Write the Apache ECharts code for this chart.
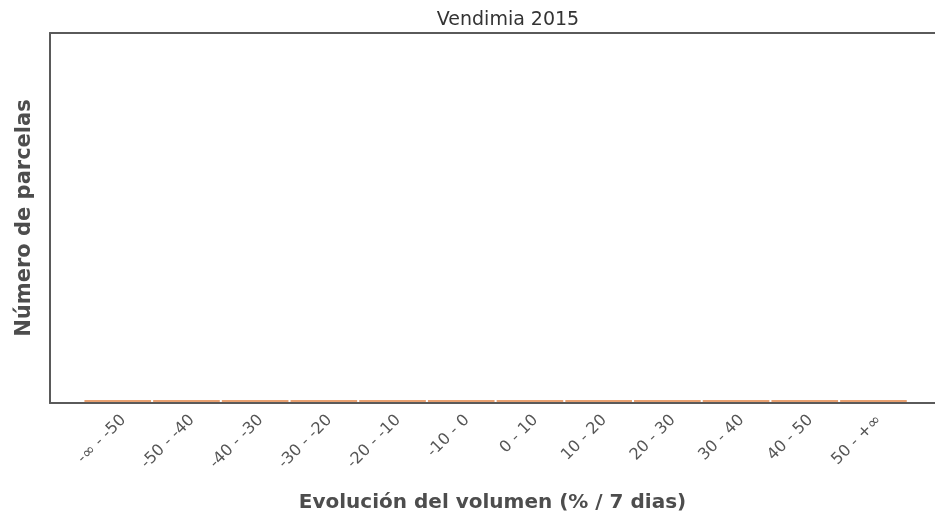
<!DOCTYPE html>
<html>
<head>
<meta charset="utf-8">
<script src="https://cdn.jsdelivr.net/npm/echarts@6/dist/echarts.min.js"></script>
<style>
  html, body { margin: 0; padding: 0; background: #fff; }
  #main { width: 935px; height: 526px; }
</style>
</head>
<body>
<div id="main"></div>
<script>
// rangos de evolucion del volumen
var categories = ['-∞ - -50', '-50 - -40', '-40 - -30', '-30 - -20', '-20 - -10', '-10 - 0',
                  '0 - 10', '10 - 20', '20 - 30', '30 - 40', '40 - 50', '50 - +∞'];
// numero de parcelas por rango (todo a cero)
var parcelas = [0, 0, 0, 0, 0, 0, 0, 0, 0, 0, 0, 0];

var chartTitle = 'Vendimia 2015';
var xName = 'Evolución del volumen (% / 7 dias)';
var yName = 'Número de parcelas';

var myChart = echarts.init(document.getElementById('main'));
var font = 'DejaVu Sans, sans-serif';
var frameLine = { show: true, lineStyle: { color: '#5a5a5a', width: 2 } };
var hidden = { show: false };

var option = {
  animation: false,
  title: {
    text: chartTitle,
    left: 503,
    top: 6,
    textAlign: 'center',
    textStyle: { fontFamily: font, fontSize: 19, fontWeight: 'normal', color: '#333' }
  },
  grid: [
    // barras
    { left: 83.4, top: 33, width: 824.4, bottom: 124 },
    // marco del panel: solo izquierda, arriba y abajo
    { left: 50, top: 33, right: 0, bottom: 123 }
  ],
  xAxis: [
    {
      type: 'category',
      gridIndex: 0,
      data: categories,
      axisLine: hidden,
      axisTick: hidden,
      axisLabel: {
        rotate: 45,
        interval: 0,
        margin: 10,
        align: 'right',
        verticalAlign: 'top',
        fontFamily: font,
        fontSize: 16,
        color: '#555'
      }
    },
    {
      type: 'value',
      gridIndex: 1,
      position: 'bottom',
      min: 0, max: 1,
      axisLine: frameLine,
      axisTick: hidden,
      axisLabel: hidden,
      splitLine: hidden,
      name: xName,
      nameLocation: 'middle',
      nameGap: 90,
      nameTextStyle: { fontFamily: font, fontSize: 20, fontWeight: 'bold', color: '#4d4d4d' }
    },
    {
      type: 'value',
      gridIndex: 1,
      position: 'top',
      min: 0, max: 1,
      axisLine: frameLine,
      axisTick: hidden,
      axisLabel: hidden,
      splitLine: hidden
    }
  ],
  yAxis: [
    {
      type: 'value',
      gridIndex: 0,
      min: 0, max: 1,
      show: false
    },
    {
      type: 'value',
      gridIndex: 1,
      position: 'left',
      min: 0, max: 1,
      axisLine: frameLine,
      axisTick: hidden,
      axisLabel: hidden,
      splitLine: hidden,
      name: yName,
      nameLocation: 'middle',
      nameGap: 15,
      nameTextStyle: { fontFamily: font, fontSize: 21, fontWeight: 'bold', color: '#4d4d4d' }
    }
  ],
  series: [
    {
      type: 'bar',
      xAxisIndex: 0,
      yAxisIndex: 0,
      data: parcelas,
      barCategoryGap: '3%',
      barMinHeight: 2,
      itemStyle: { color: '#e8a070' },
      z: 3
    }
  ]
};

option && myChart.setOption(option);
</script>
</body>
</html>
